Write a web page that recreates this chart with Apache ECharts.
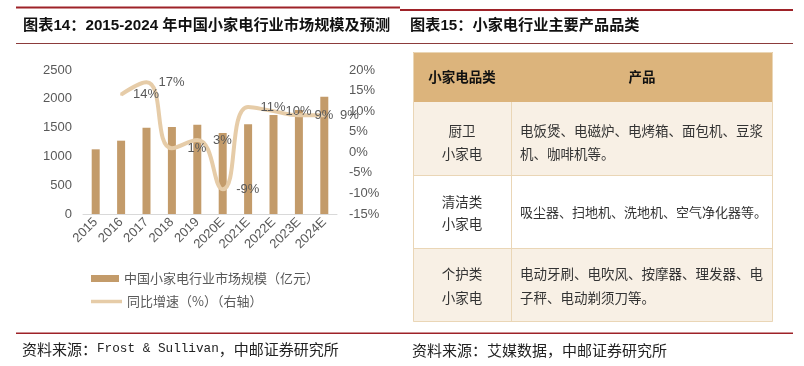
<!DOCTYPE html>
<html><head><meta charset="utf-8">
<script src="https://cdn.jsdelivr.net/npm/echarts@6/dist/echarts.min.js"></script>
<style>html,body{margin:0;padding:0;background:#fff}#c{width:804px;height:366px}</style>
</head><body><div id="c"></div>
<script>
const categories = ['2015','2016','2017','2018','2019','2020E','2021E','2022E','2023E','2024E'];
const marketSize = [1123, 1273, 1499, 1510, 1551, 1406, 1557, 1719, 1806, 2037];
const growth = [null, 14, 17, 1, 3, -9, 11, 10, 9, 9];
const leftTicks = {min: 0, max: 2500, interval: 500};
const rightTicks = {min: -15, max: 20, interval: 5};
const tableHeader = ['小家电品类', '产品'];
const tableCat = [['厨卫','小家电'], ['清洁类','小家电'], ['个护类','小家电']];
const tableProd = [['电饭煲、电磁炉、电烤箱、面包机、豆浆','机、咖啡机等。'], ['吸尘器、扫地机、洗地机、空气净化器等。'], ['电动牙刷、电吹风、按摩器、理发器、电','子秤、电动剃须刀等。']];

const CJK = "'Noto Sans CJK SC', sans-serif";
const LAT = "'Liberation Sans', 'Noto Sans CJK SC', sans-serif";
const RED = '#9e2228';
const BAR = '#c39b6a';
const LINE = '#e6cca8';
const GRAY = '#595959';

const g = [];
g.push({type:'rect', shape:{x:16,y:6.5,width:384,height:2}, style:{fill:RED}});
g.push({type:'rect', shape:{x:400,y:9,width:393,height:2}, style:{fill:RED}});
g.push({type:'rect', shape:{x:16,y:43,width:384,height:1}, style:{fill:'#8c3b3b'}});
g.push({type:'rect', shape:{x:400,y:43,width:393,height:1}, style:{fill:'#8c3b3b'}});
g.push({type:'rect', shape:{x:16,y:332.5,width:384,height:1.5}, style:{fill:RED}});
g.push({type:'rect', shape:{x:400,y:332.5,width:393,height:1.5}, style:{fill:RED}});
g.push({type:'text', style:{text:'图表14：2015-2024 年中国小家电行业市场规模及预测', x:23, y:26, fill:'#111', font:'bold 15.2px ' + LAT, textVerticalAlign:'middle'}});
g.push({type:'text', style:{text:'图表15：小家电行业主要产品品类', x:410, y:26, fill:'#111', font:'bold 15.2px ' + LAT, textVerticalAlign:'middle'}});
g.push({type:'text', style:{x:22, y:349, textVerticalAlign:'middle', fill:'#222',
  text:'{a|资料来源：}{b|Frost & Sullivan}{a|，中邮证券研究所}',
  rich:{a:{fontSize:15, fontFamily:CJK, fill:'#222'}, b:{fontSize:12.7, fontFamily:"'Liberation Mono', monospace", fill:'#222'}}}});
g.push({type:'text', style:{x:412, y:350, textVerticalAlign:'middle', fill:'#222', text:'资料来源：艾媒数据，中邮证券研究所', font:'15px ' + CJK}});

const TX = 413, TW = 360, COL = 511;
const rowsY = [52, 102, 175, 248, 322];
const fills = ['#dcb47c', '#f8f0e5', '#ffffff', '#f8f0e5'];
for (let i = 0; i < 4; i++) {
  g.push({type:'rect', shape:{x:TX, y:rowsY[i], width:TW, height:rowsY[i+1]-rowsY[i]}, style:{fill:fills[i]}});
}
const BORDER = '#ead6b6';
g.push({type:'rect', shape:{x:TX+0.5, y:52.5, width:TW-1, height:269}, style:{fill:'none', stroke:BORDER, lineWidth:1}});
for (let i = 2; i < 4; i++) g.push({type:'line', shape:{x1:TX, y1:rowsY[i]+0.5, x2:TX+TW, y2:rowsY[i]+0.5}, style:{stroke:BORDER, lineWidth:1}});
g.push({type:'line', shape:{x1:COL+0.5, y1:102, x2:COL+0.5, y2:322}, style:{stroke:BORDER, lineWidth:1}});
g.push({type:'text', style:{text:tableHeader[0], x:462, y:77, textAlign:'center', textVerticalAlign:'middle', font:'bold 13.5px ' + CJK, fill:'#111'}});
g.push({type:'text', style:{text:tableHeader[1], x:642, y:77, textAlign:'center', textVerticalAlign:'middle', font:'bold 13.5px ' + CJK, fill:'#111'}});
const catY = [[131,154],[202,224],[274,298]];
const prodY = [[131,154],[212],[274,298]];
for (let r = 0; r < 3; r++) {
  tableCat[r].forEach((t, k) => g.push({type:'text', style:{text:t, x:462, y:catY[r][k], textAlign:'center', textVerticalAlign:'middle', font:'13.5px ' + CJK, fill:'#333'}}));
  tableProd[r].forEach((t, k) => g.push({type:'text', style:{text:t, x:520, y:prodY[r][k], textAlign:'left', textVerticalAlign:'middle', font:(r===1?'13px ':'13.5px ') + CJK, fill:'#333'}}));
}

const chart = echarts.init(document.getElementById('c'), null, {renderer:'canvas'});
chart.setOption({
  animation: false,
  backgroundColor: '#fff',
  grid: {left: 83, right: 467, top: 70, bottom: 152, containLabel: false},
  legend: [
    {data:[{name:'中国小家电行业市场规模（亿元）', icon:'rect'}], left: 91, top: 272, padding: 0, itemWidth: 28, itemHeight: 7,
     textStyle:{fontSize:13, color:GRAY, fontFamily:CJK}},
    {data:[{name:'同比增速（%）（右轴）', icon:'rect'}], left: 91, top: 295, padding: 0, itemWidth: 31, itemHeight: 3.5,
     textStyle:{fontSize:13, color:GRAY, fontFamily:CJK}}
  ],
  xAxis: {
    type: 'category', data: categories,
    axisLine: {lineStyle: {color: '#d9d9d9'}}, axisTick: {show: false},
    axisLabel: {rotate: 45, fontSize: 13, color: GRAY, fontFamily: LAT, margin: 6, interval: 0}
  },
  yAxis: [
    {type:'value', min:leftTicks.min, max:leftTicks.max, interval:leftTicks.interval, splitLine:{show:false},
     axisLine:{show:false}, axisTick:{show:false}, axisLabel:{fontSize:13, color:GRAY, fontFamily:LAT, margin:11, formatter: v => String(v)}},
    {type:'value', min:rightTicks.min, max:rightTicks.max, interval:rightTicks.interval, splitLine:{show:false},
     axisLine:{show:false}, axisTick:{show:false}, axisLabel:{fontSize:13, color:GRAY, fontFamily:LAT, margin:12, formatter: v => v + '%'}}
  ],
  series: [
    {name:'中国小家电行业市场规模（亿元）', type:'bar', data: marketSize, barWidth: 8, itemStyle:{color: BAR}},
    {name:'同比增速（%）（右轴）', type:'line', yAxisIndex: 1, data: growth, smooth: 0.5,
     showSymbol: true, symbol: 'circle', symbolSize: 2, itemStyle: {color: LINE},
     lineStyle: {color: LINE, width: 4},
     label: {show: true, position: 'inside', offset: [25, 0], formatter: p => p.value + '%', fontSize: 13, color: GRAY, fontFamily: LAT}}
  ],
  graphic: g
});
</script></body></html>
